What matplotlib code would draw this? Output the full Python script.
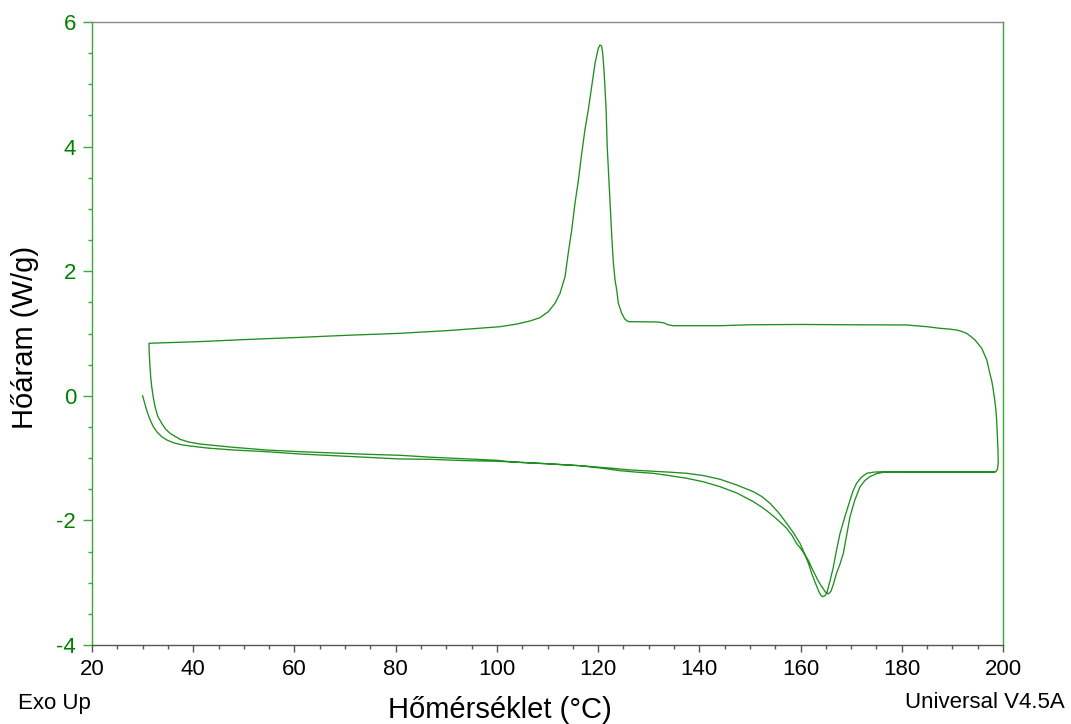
#/usr/bin/env python3
import matplotlib
matplotlib.use('Agg')
import matplotlib.pyplot as plt
from matplotlib.ticker import MultipleLocator

plt.rcParams['font.family'] = ['Liberation Sans', 'DejaVu Sans']
plt.rcParams['axes.unicode_minus'] = False

# first heating (starts at 30 C)
heat1_T = [30.0, 30.4, 30.79, 31.4, 32.11, 32.9, 33.77, 34.8, 36.06, 37.6, 39.36, 43.0,
           47.92, 54.52, 61.1, 67.5, 74.28, 80.86, 86.78, 93.36, 99.96, 103.2, 109.8,
           116.4, 120.5, 124.3, 127.5, 130.9, 134.0, 137.5, 140.8, 144.1, 147.4, 150.7,
           152.4, 153.96, 155.6, 157.26, 158.3, 159.2, 160.1, 160.9, 161.6, 162.2, 162.8,
           163.4, 164.0, 164.5, 165.0, 165.5, 166.0, 166.5, 167.1, 167.8, 168.45, 169.1,
           169.77, 170.7, 171.75, 172.7, 173.7, 175.0, 176.35, 180.0, 185.0, 192.0,
           198.0, 198.6, 198.9]
heat1_H = [0.0, -0.115, -0.228, -0.37, -0.496, -0.585, -0.656, -0.71, -0.753, -0.785, -0.806, -0.84,
           -0.870, -0.897, -0.934, -0.96, -0.987, -1.014, -1.019, -1.04, -1.051, -1.063, -1.09,
           -1.122, -1.16, -1.202, -1.225, -1.244, -1.28, -1.324, -1.38, -1.459, -1.56, -1.70,
           -1.79, -1.886, -2.0, -2.127, -2.24, -2.368, -2.46, -2.556, -2.65, -2.76, -2.86,
           -2.957, -3.04, -3.10, -3.16, -3.18, -3.14, -3.02, -2.85, -2.70, -2.53, -2.24,
           -1.94, -1.68, -1.459, -1.36, -1.298, -1.25, -1.228, -1.222, -1.222, -1.222,
           -1.223, -1.215, -1.18]

# cooling 200 -> 31 C (crystallisation peak near 120 C)
cool_T = [199.06, 199.0, 198.87, 198.75, 198.6, 198.35, 198.08, 197.8, 197.4, 196.8,
          195.8, 194.47, 193.6, 192.8, 191.8, 190.85, 189.5, 187.55, 184.9, 180.96,
          170.0, 160.0, 150.0, 144.1, 134.8, 133.8, 133.0, 131.8, 126.5, 125.97, 125.3,
          124.66, 124.0, 123.67, 123.34, 123.0, 122.7, 122.2, 121.8, 121.56, 121.16, 120.9,
          120.7, 120.37, 120.04, 119.4, 118.73, 118.06, 117.4, 116.76, 116.1, 115.43, 114.78,
          114.1, 113.46, 112.47, 111.48, 110.16, 108.5, 106.5, 103.9, 100.6, 95.0, 90.0,
          85.0, 80.86, 70.0, 61.1, 50.0, 41.34, 35.0, 31.46, 31.26]
cool_H = [-1.08, -0.85, -0.60, -0.40, -0.228, -0.06, 0.093, 0.23, 0.36, 0.575,
          0.762, 0.896, 0.955, 1.003, 1.035, 1.056, 1.07, 1.083, 1.11, 1.137,
          1.14, 1.145, 1.14, 1.125, 1.125, 1.14, 1.17, 1.185, 1.19, 1.19, 1.228,
          1.324, 1.485, 1.70, 1.86, 2.15, 2.554, 3.356, 4.0, 4.64, 5.23, 5.50,
          5.615, 5.63, 5.58, 5.34, 4.96, 4.59, 4.27, 3.89, 3.46, 3.09, 2.66,
          2.29, 1.91, 1.645, 1.485, 1.35, 1.254, 1.20, 1.151, 1.109, 1.075, 1.045,
          1.022, 1.003, 0.97, 0.938, 0.902, 0.87, 0.853, 0.843, 0.843]

# second heating (starts where cooling ended)
heat2_T = [31.3, 31.46, 31.6, 31.8, 32.1, 32.45, 33.0, 33.77, 34.5, 35.41, 37.39, 39.0,
           41.34, 47.92, 54.52, 61.1, 67.5, 74.28, 80.86, 86.78, 93.36, 99.96, 103.2,
           109.8, 116.4, 122.9, 126.3, 130.8, 134.0, 137.5, 140.8, 144.1, 147.4, 150.7,
           152.4, 153.96, 155.6, 157.26, 158.6, 159.9, 160.9, 161.6, 162.2, 162.9, 163.6,
           164.0, 164.36, 164.8, 165.16, 165.8, 166.5, 167.1, 167.8, 168.8, 169.8, 170.4,
           171.1, 172.0, 173.07, 174.5, 176.35, 185.0, 192.0, 198.4]
heat2_H = [0.70, 0.467, 0.30, 0.146, -0.02, -0.175, -0.33, -0.442, -0.53, -0.602, -0.698, -0.74,
           -0.774, -0.827, -0.870, -0.897, -0.918, -0.939, -0.955, -0.985, -1.01, -1.035, -1.063,
           -1.09, -1.122, -1.164, -1.19, -1.21, -1.225, -1.244, -1.28, -1.34, -1.432, -1.54,
           -1.62, -1.725, -1.87, -2.047, -2.2, -2.37, -2.556, -2.70, -2.85, -3.0, -3.14,
           -3.2, -3.225, -3.21, -3.17, -2.98, -2.74, -2.48, -2.21, -1.93, -1.67, -1.52,
           -1.40, -1.31, -1.244, -1.225, -1.218, -1.22, -1.222, -1.223]

T = heat1_T + cool_T + heat2_T
H = heat1_H + cool_H + heat2_H

green = '#1f8f1f'

fig = plt.figure(figsize=(10.71, 7.24), dpi=100)
ax = fig.add_axes([92/1071, 1-645/724, (1003-92)/1071, (645-22)/724])
ax.plot(T, H, color=green, lw=0.95)

ax.set_xlim(20, 200)
ax.set_ylim(-4, 6)
ax.xaxis.set_major_locator(MultipleLocator(20))
ax.xaxis.set_minor_locator(MultipleLocator(5))
ax.yaxis.set_major_locator(MultipleLocator(2))
ax.yaxis.set_minor_locator(MultipleLocator(0.5))

ax.spines['left'].set_color('#3aa83a')
ax.spines['right'].set_color('#3aa83a')
ax.spines['top'].set_color('#888888')
ax.spines['bottom'].set_color('#555555')
for s in ax.spines.values():
    s.set_linewidth(1.0)

ax.tick_params(axis='x', which='major', length=5, width=1, color='#555555',
               labelsize=16, labelcolor='black', pad=5)
ax.tick_params(axis='x', which='minor', length=3, width=1, color='#555555')
ax.tick_params(axis='y', which='major', length=6.5, width=1, color='#3aa83a',
               labelsize=16, labelcolor='#008000', pad=5)
ax.tick_params(axis='y', which='minor', length=3, width=1, color='#3aa83a')

fig.text(500/1071, 1-710/724, 'Hőmérséklet (°C)', fontsize=21, ha='center', va='center')
fig.text(25/1071, 1-337/724, 'Hőáram (W/g)', fontsize=21, ha='center', va='center',
         rotation=90)
fig.text(18/1071, 1-703/724, 'Exo Up', fontsize=16, ha='left', va='center')
fig.text(1065/1071, 1-703/724, 'Universal V4.5A', fontsize=16, ha='right', va='center')

plt.savefig('out.png', dpi=100)
